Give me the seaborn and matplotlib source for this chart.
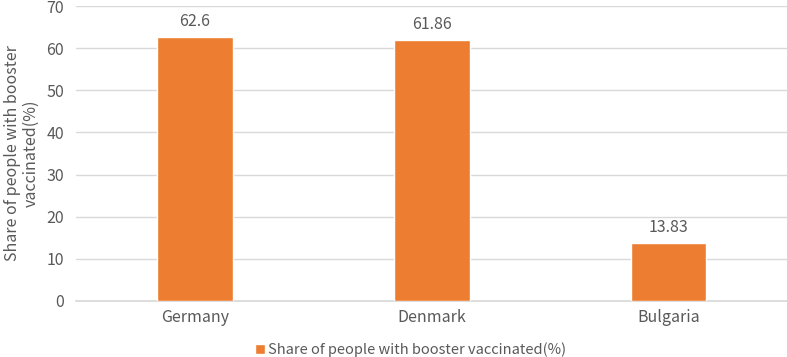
import matplotlib.pyplot as plt
import pandas as pd
import seaborn as sns

countries = ["Germany", "Denmark", "Bulgaria"]
booster_share = [62.6, 61.86, 13.83]
value_labels = ["62.6", "61.86", "13.83"]
series_name = "Share of people with booster vaccinated(%)"

df = pd.DataFrame({"country": countries, "share": booster_share})

sns.set_theme(style="white")
plt.rcParams['font.family'] = ['Noto Sans CJK SC', 'DejaVu Sans']
text_color = "#595959"
bar_color = "#ED7D31"

fig = plt.figure(figsize=(7.87, 3.57), dpi=100)
ax = fig.add_axes([0.097, 0.157, 0.903, 0.826])

sns.barplot(data=df, x="country", y="share", color=bar_color, width=0.32,
            saturation=1, ax=ax, label=series_name, zorder=3)

# value labels above bars
for p, lab in zip(ax.patches, value_labels):
    ax.annotate(lab, (p.get_x() + p.get_width() / 2, p.get_height()),
                xytext=(0, 5), textcoords="offset points",
                ha="center", va="bottom", fontsize=11.5, color=text_color)

ax.set_ylim(0, 70)
ax.set_yticks(range(0, 71, 10))
ax.set_xlim(-0.5, 2.5)
ax.yaxis.grid(True, color="#D9D9D9", linewidth=1)
ax.set_axisbelow(True)
for s in ["top", "right", "left"]:
    ax.spines[s].set_visible(False)
ax.spines["bottom"].set_color("#D9D9D9")
ax.tick_params(axis="both", colors=text_color, labelsize=11.5, length=0)
ax.tick_params(axis="y", pad=9)
ax.tick_params(axis="x", pad=6)
ax.set_xlabel("")
ax.set_ylabel("Share of people with booster\nvaccinated(%)", color=text_color,
              fontsize=11.5, linespacing=1.1)
ax.yaxis.set_label_coords(-0.052, 0.5)

ax.legend(loc="upper center", bbox_to_anchor=(0.47, -0.095), frameon=False,
          fontsize=10.5, labelcolor=text_color, handlelength=0.7, handleheight=0.7,
          handletextpad=0.2)

fig.savefig("out.png", dpi=100)
